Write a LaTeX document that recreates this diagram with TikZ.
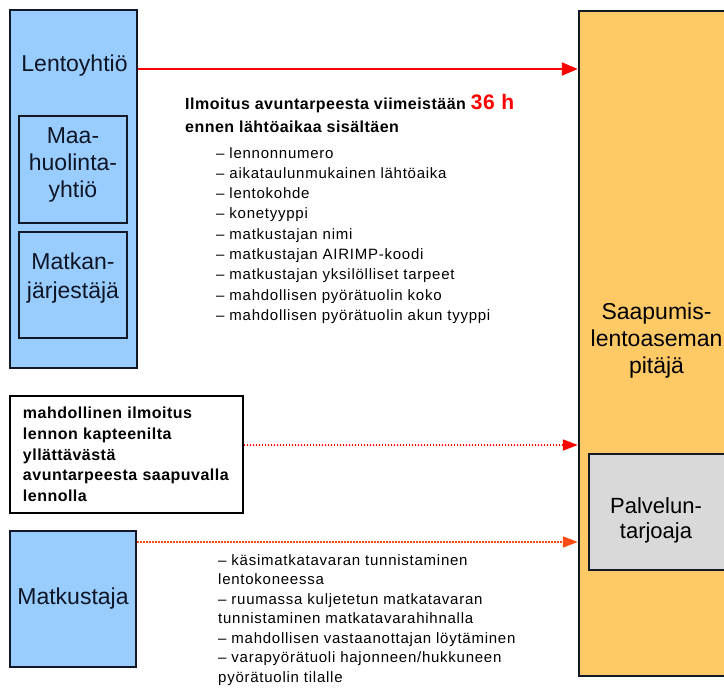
\documentclass[tikz,border=0pt]{standalone}
\usepackage{fontspec}
\setmainfont{Liberation Sans}
\newfontfamily\listfont[LetterSpace=5]{Liberation Sans}
\newfontfamily\headfont[LetterSpace=3]{Liberation Sans}
\usetikzlibrary{arrows.meta}

\definecolor{edge}{HTML}{121826}
\definecolor{ink}{HTML}{0E1626}
\definecolor{paleblue}{HTML}{99CCFF}
\definecolor{paleorange}{HTML}{FFCA66}
\definecolor{palegray}{HTML}{D9D9D9}
\definecolor{alert}{HTML}{FF0000}
\definecolor{alertorange}{HTML}{FF4A10}

\tikzset{
  actor/.style={draw=edge, fill=paleblue, line width=2.4pt, inner sep=0pt},
  subactor/.style={draw=edge, fill=paleblue, line width=2pt, inner sep=0pt},
  airport/.style={draw=edge, fill=paleorange, line width=2.4pt, inner sep=0pt},
  provider/.style={draw=edge, fill=palegray, line width=2pt, inner sep=0pt},
  notebox/.style={draw=black, fill=white, line width=1.3pt, align=left,
    font=\headfont\bfseries\fontsize{16}{20.75}\selectfont, text=black},
  biglabel/.style={font=\fontsize{23}{27}\selectfont, text=ink, align=center, inner sep=0pt},
  listtext/.style={font=\listfont\fontsize{15}{20.3}\selectfont, text=black, align=left, inner sep=0pt},
  headtext/.style={font=\headfont\bfseries\fontsize{16}{23}\selectfont, text=black, align=left, inner sep=0pt},
  mainflow/.style={draw=alert, line width=2pt, -{Triangle[length=16pt,width=13pt]}},
  dotflow/.style={line width=1.7pt, dash pattern=on 1.4pt off 1.6pt, -{Triangle[length=15pt,width=11pt]}},
}

\begin{document}
\begin{tikzpicture}[x=1pt,y=-1pt]
\useasboundingbox (0,0) rectangle (724,691);
\clip (0,0) rectangle (724,691);
\fill[white] (0,0) rectangle (724,691);

% airline and its partners
\node[actor, minimum width=127, minimum height=358] (airline) at (73.5,189) {};
\node[biglabel] (airlinelbl) at (74.5,66) {Lentoyhtiö};
\node[subactor, minimum width=108, minimum height=107] (handling) at (73,169.5) {};
\node[biglabel] (handlinglbl) at (73,165) {Maa-\\huolinta-\\yhtiö};
\node[subactor, minimum width=108, minimum height=106] (organiser) at (73,285) {};
\node[biglabel, font=\fontsize{23}{29}\selectfont] (organiserlbl) at (73,278.5) {Matkan-\\järjestäjä};

% captain's notice
\node[notebox, minimum width=233, minimum height=117, text width=207] (note) at (126.5,454.5)
  {mahdollinen ilmoitus\\lennon kapteenilta\\yllättävästä\\avuntarpeesta saapuvalla\\lennolla};

% passenger
\node[actor, minimum width=126, minimum height=136, font=\fontsize{23}{27}\selectfont, text=ink] (traveller) at (73,599) {Matkustaja};

% arrival airport operator and service provider
\node[airport, minimum width=181, minimum height=665] (arrival) at (669.5,343.5) {};
\node[biglabel, text=black] (arrivallbl) at (656.5,341) {Saapumis-\\lentoaseman\\pitäjä};
\node[provider, minimum width=171, minimum height=116] (service) at (674.5,512) {};
\node[biglabel, font=\fontsize{22}{25}\selectfont, text=black] (servicelbl) at (656,520) {Palvelun-\\tarjoaja};

% information contents
\node[headtext, anchor=north west] (notice) at (185,94)
  {Ilmoitus avuntarpeesta viimeistään {\color{alert}\fontsize{21}{23}\selectfont 36 h}\\ennen lähtöaikaa sisältäen};
\node[listtext, anchor=north west] (items) at (216,147)
  {– lennonnumero\\– aikataulunmukainen lähtöaika\\– lentokohde\\– konetyyppi\\– matkustajan nimi\\%
   – matkustajan AIRIMP-koodi\\– matkustajan yksilölliset tarpeet\\– mahdollisen pyörätuolin koko\\%
   – mahdollisen pyörätuolin akun tyyppi};
\node[listtext, anchor=north west, font=\listfont\fontsize{15}{19.5}\selectfont] (services) at (218,554)
  {– käsimatkatavaran tunnistaminen\\lentokoneessa\\– ruumassa kuljetetun matkatavaran\\%
   tunnistaminen matkatavarahihnalla\\– mahdollisen vastaanottajan löytäminen\\%
   – varapyörätuoli hajonneen/hukkuneen\\pyörätuolin tilalle};

% flows
\coordinate (row1) at (0,69);
\coordinate (row2) at (0,445);
\coordinate (row3) at (0,542);
\draw[mainflow] (airline.east |- row1) -- (arrival.west |- row1);
\draw[dotflow, draw=alert, fill=alert] (note.east |- row2) -- (arrival.west |- row2);
\draw[dotflow, draw=alertorange, fill=alertorange] (traveller.east |- row3) -- (arrival.west |- row3);
\end{tikzpicture}
\end{document}
